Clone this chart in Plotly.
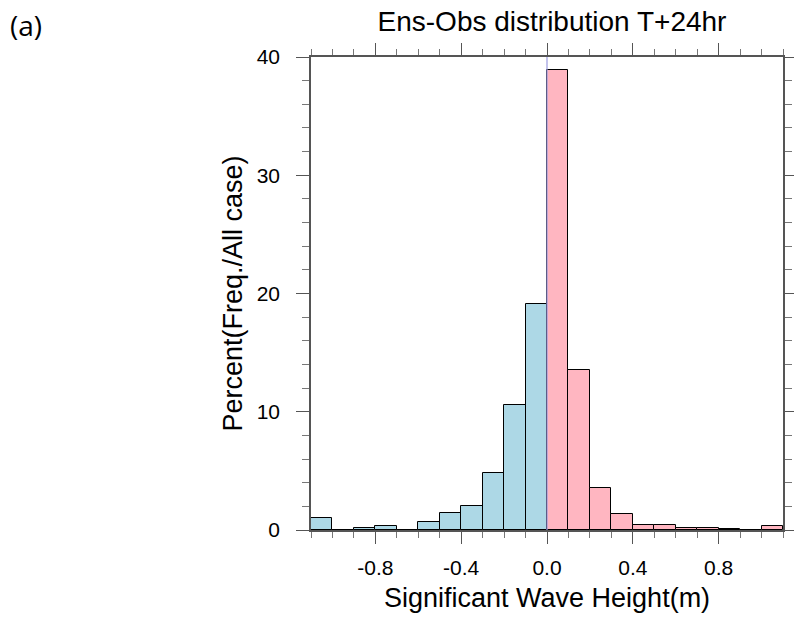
import plotly.graph_objects as go

bin_centers = [-1.05, -0.95, -0.85, -0.75, -0.65, -0.55, -0.45, -0.35, -0.25, -0.15, -0.05,
               0.05, 0.15, 0.25, 0.35, 0.45, 0.55, 0.65, 0.75, 0.85, 0.95, 1.05]
percent = [1.05, 0.0, 0.18, 0.37, 0.0, 0.68, 1.46, 2.05, 4.85, 10.6, 19.1,
           38.9, 13.5, 3.55, 1.35, 0.45, 0.45, 0.2, 0.2, 0.1, 0.0, 0.32]
x_tickvals = [-0.8, -0.4, 0.0, 0.4, 0.8]
x_ticktext = ["-0.8", "-0.4", "0.0", "0.4", "0.8"]
y_tickvals = [0, 10, 20, 30, 40]

NEG = "#ADD8E6"
POS = "#FFB6C1"
colors = [NEG if c < 0 else POS for c in bin_centers]

FONT = "Liberation Sans, Arial, sans-serif"

W, H = 794, 620
L, R, T, B = 311, 11, 57, 90
PW, PH = W - L - R, H - T - B

fig = go.Figure()
fig.add_trace(go.Bar(
    x=bin_centers, y=percent, width=0.1,
    marker=dict(color=colors, line=dict(color="black", width=1)),
    showlegend=False,
))
fig.add_shape(type="line", xref="x", yref="paper", x0=0, x1=0, y0=0, y1=1,
              line=dict(color="#9a9ae0", width=1.2), layer="above")

axis_font = dict(family=FONT, size=21, color="black")
fig.update_xaxes(
    range=[-1.1, 1.1], tickvals=x_tickvals, ticktext=x_ticktext,
    ticks="outside", ticklen=12, tickwidth=1.3, tickcolor="#555",
    showline=True, linecolor="#555", linewidth=1.5, mirror="allticks",
    showgrid=False, zeroline=False, tickfont=axis_font, automargin=False,
    ticklabelstandoff=6,
    minor=dict(dtick=0.1, tick0=0, ticks="outside", ticklen=6, tickwidth=1, tickcolor="#777"),
)
fig.update_yaxes(
    range=[0, 40], tickvals=y_tickvals,
    ticks="outside", ticklen=13, tickwidth=1.3, tickcolor="#555",
    showline=True, linecolor="#555", linewidth=1.5, mirror="allticks",
    showgrid=False, zeroline=False, tickfont=axis_font, automargin=False,
    ticklabelstandoff=12,
    minor=dict(dtick=2, tick0=0, ticks="outside", ticklen=7, tickwidth=1, tickcolor="#777"),
)
fig.update_layout(
    width=W, height=H,
    margin=dict(l=L, r=R, t=T, b=B),
    plot_bgcolor="white", paper_bgcolor="white",
    bargap=0,
    title=dict(text="Ens-Obs distribution T+24hr", x=552 / W, xanchor="center",
               y=1 - 21 / H, yanchor="middle", automargin=False,
               font=dict(family=FONT, size=28, color="black")),
)
fig.add_annotation(text="Significant Wave Height(m)", xref="paper", yref="paper",
                   x=0.5, y=-(598 - 530) / PH, xanchor="center", yanchor="middle",
                   showarrow=False, font=dict(family=FONT, size=27, color="black"))
fig.add_annotation(text="Percent(Freq./All case)", xref="paper", yref="paper",
                   x=-(311 - 232) / PW, y=0.5, xanchor="center", yanchor="middle", textangle=-90,
                   showarrow=False, font=dict(family=FONT, size=27, color="black"))
fig.add_annotation(text="(a)", xref="paper", yref="paper", x=-(311 - 8) / PW, y=1 + (57 - 25) / PH,
                   xanchor="left", yanchor="middle", showarrow=False,
                   font=dict(family="Open Sans, Noto Sans, sans-serif", size=28, color="black"))
fig.write_html("out.html", config={"displayModeBar": False},
               post_script="document.body.style.margin='0';")
